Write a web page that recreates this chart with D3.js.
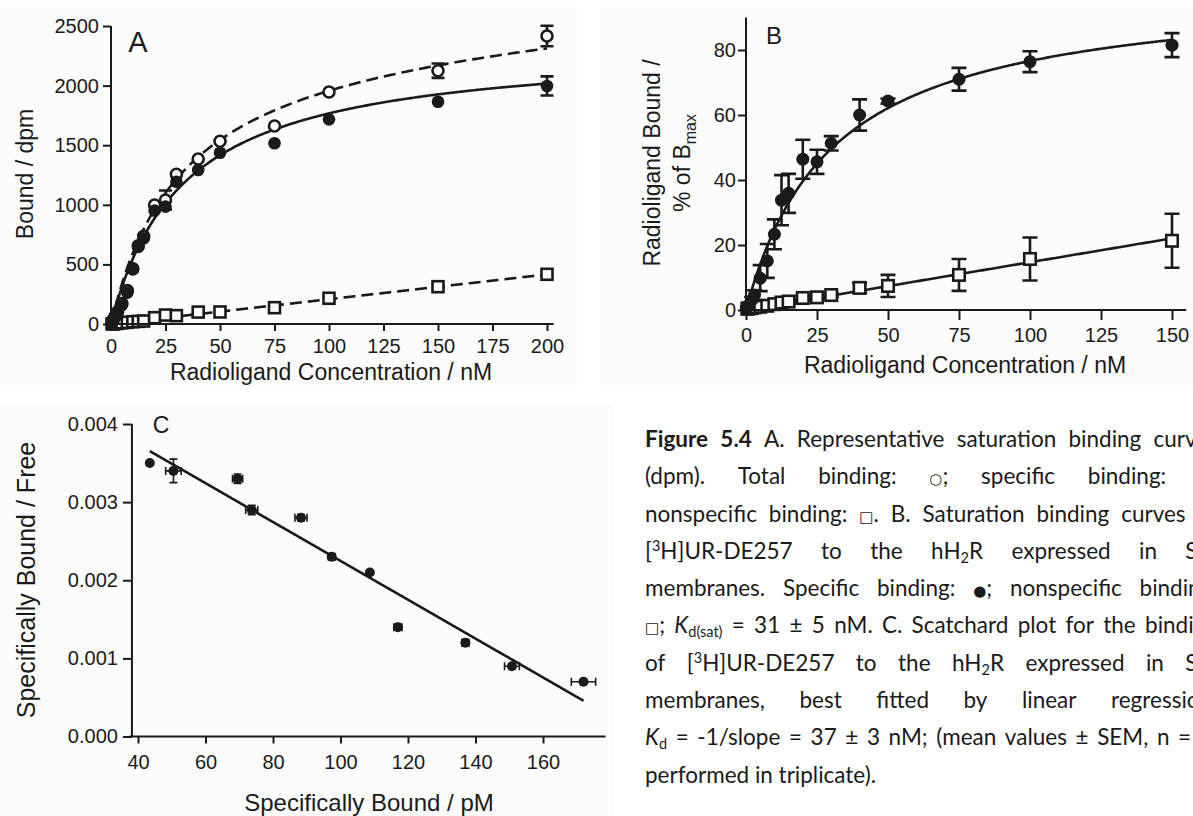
<!DOCTYPE html>
<html>
<head>
<meta charset="utf-8">
<script src="https://cdn.jsdelivr.net/npm/d3@7"></script>
<style>
  body { margin: 0; background: #fff; width: 1193px; height: 816px; overflow: hidden; position: relative; }
  svg { position: absolute; left: 0; top: 0; }
  .caption { position: absolute; left: 645px; top: 420px; font-family: Lato, "Open Sans", sans-serif; font-size: 22.5px; color: #1a1a1a; }
  .cl { display: flex; justify-content: space-between; column-gap: 3px; width: 573px; height: 37.3px; line-height: 37.3px; white-space: nowrap; }
  .cl.last { display: block; }
  .caption sub, .caption sup { font-size: 14.5px; line-height: 0; }
  .caption sub { vertical-align: -4px; }
  .caption sup { vertical-align: 8px; }
  .sym { font-family: "DejaVu Sans", sans-serif; font-size: 15px; }
</style>
</head>
<body>
<script>
// ---------- Panel A: saturation binding (dpm) ----------
const concA      = [0.5, 1, 2, 3, 5, 7.5, 10, 12.5, 15, 20, 25, 30, 40, 50, 75, 100, 150, 200];
const totalA     = [18, 35, 68, 100, 172, 280, 462, 655, 735, 998, 1040, 1256, 1384, 1533, 1661, 1946, 2125, 2416];
const totalErrA  = [0, 0, 0, 0, 0, 0, 0, 0, 0, 0, 80, 0, 0, 0, 0, 0, 60, 86];
const specificA  = [15, 30, 58, 92, 159, 263, 467, 648, 719, 951, 985, 1194, 1292, 1437, 1516, 1717, 1865, 1997];
const specErrA   = [0, 0, 0, 0, 0, 0, 0, 0, 0, 0, 0, 0, 0, 0, 0, 0, 0, 80];
const nonspecA   = [1, 2, 4, 6, 10, 14, 19, 22, 25, 53, 75, 70, 100, 101, 137, 216, 313, 417];
const ticksAx    = [0, 25, 50, 75, 100, 125, 150, 175, 200];
const ticksAy    = [0, 500, 1000, 1500, 2000, 2500];
// one-site fits
const fitSpecA   = { bmax: 2350, kd: 33 };
const fitTotalA  = { bmax: 2450, kd: 32, ns: 1.0 };
const fitNsSlopeA = 2.08;

// ---------- Panel B: saturation binding (% of Bmax) ----------
const concB      = [0.5, 1, 2, 3, 5, 7.5, 10, 12.5, 15, 20, 25, 30, 40, 50, 75, 100, 150];
const specB      = [0.8, 1.5, 3.0, 4.6, 9.8, 15.1, 23.3, 33.8, 35.9, 46.4, 45.6, 51.3, 60.0, 64.3, 71.0, 76.4, 81.5];
const specErrB   = [0.3, 0.5, 1.0, 1.5, 4.0, 5.2, 4.6, 7.7, 6.0, 6.0, 3.7, 2.2, 4.8, 0.8, 3.5, 3.2, 3.7];
const nonspecB   = [0.4, 0.5, 0.6, 0.8, 1.0, 1.3, 1.8, 2.3, 2.6, 3.7, 3.9, 4.6, 6.8, 7.4, 10.8, 15.7, 21.3];
const nsErrB     = [0, 0, 0, 0, 0.3, 0.3, 0.4, 0.5, 0.5, 0.6, 0.5, 0.6, 1.5, 3.4, 4.9, 6.6, 8.3];
const ticksBx    = [0, 25, 50, 75, 100, 125, 150];
const ticksBy    = [0, 20, 40, 60, 80];
const fitSpecB   = { bmax: 100, kd: 30.5 };
const fitNsSlopeB = 0.147;

// ---------- Panel C: Scatchard plot ----------
const boundC     = [43.5, 50.5, 69.5, 73.7, 88.3, 97.4, 108.7, 117, 137, 150.8, 172];
const ratioC     = [0.0035, 0.0034, 0.0033, 0.0029, 0.0028, 0.0023, 0.0021, 0.0014, 0.0012, 0.0009, 0.0007];
const boundErrC  = [0, 2.3, 1.5, 1.8, 1.8, 1.0, 0, 1.2, 1.0, 2.2, 3.6];
const ratioErrC  = [0, 0.00015, 0.00006, 0.00006, 0.00004, 0.00002, 0, 0.00002, 0.00004, 0.00003, 0];
const ticksCx    = [40, 60, 80, 100, 120, 140, 160];
const ticksCy    = [0, 0.001, 0.002, 0.003, 0.004];
const fitLinC    = { intercept: 0.004735, slope: -2.487e-5 };

// ---------- Caption ----------
const sym = s => `<span class="sym">${s}</span>`;
const captionLines = [
  ["<b>Figure</b>", "<b>5.4</b>", "A.", "Representative", "saturation", "binding", "curves"],
  ["(dpm).", "Total", "binding:", sym("○") + ";", "specific", "binding:", sym("●") + ";"],
  ["nonspecific", "binding:", sym("□") + ".", "B.", "Saturation", "binding", "curves", "of"],
  ["[<sup>3</sup>H]UR-DE257", "to", "the", "hH<sub>2</sub>R", "expressed", "in", "Sf9"],
  ["membranes.", "Specific", "binding:", sym("●") + ";", "nonspecific", "binding:"],
  [sym("□") + ";", "<i>K</i><sub>d(sat)</sub>", "=", "31", "±", "5", "nM.", "C.", "Scatchard", "plot", "for", "the", "binding"],
  ["of", "[<sup>3</sup>H]UR-DE257", "to", "the", "hH<sub>2</sub>R", "expressed", "in", "Sf9"],
  ["membranes,", "best", "fitted", "by", "linear", "regression;"],
  ["<i>K</i><sub>d</sub>", "=", "-1/slope", "=", "37", "±", "3", "nM;", "(mean", "values", "±", "SEM,", "n", "=", "3,"],
  ["performed", "in", "triplicate)."]
];

// ---------- drawing ----------
const INK = "#1a1a1a";
const FONT = "'Liberation Sans', Arial, sans-serif";

const svg = d3.select("body").append("svg").attr("width", 1193).attr("height", 816);

// faint panel backgrounds
svg.append("rect").attr("x", 0).attr("y", 7).attr("width", 577).attr("height", 383).attr("fill", "#fcfcfc");
svg.append("rect").attr("x", 600).attr("y", 7).attr("width", 593).attr("height", 383).attr("fill", "#fcfcfc");
svg.append("rect").attr("x", 0).attr("y", 403).attr("width", 613).attr("height", 413).attr("fill", "#fcfcfc");

function yAxis(g, y, ticks, xPos, yFrom, yTo, size, pad, fmt) {
  const ax = g.append("g").attr("transform", `translate(${xPos},0)`)
    .call(d3.axisLeft(y).tickValues(ticks).tickSize(size).tickPadding(pad).tickSizeOuter(0).tickFormat(fmt || d3.format("d")));
  ax.select(".domain").remove();
  ax.selectAll("line").attr("stroke", INK).attr("stroke-width", 2);
  ax.selectAll("text").attr("fill", INK).attr("font-size", 20).attr("font-family", FONT);
  g.append("line").attr("x1", xPos).attr("x2", xPos).attr("y1", y(yFrom)).attr("y2", y(yTo))
    .attr("stroke", INK).attr("stroke-width", 2);
}
function xAxis(g, x, ticks, yPos, xFrom, xTo, size, pad, fmt) {
  const ax = g.append("g").attr("transform", `translate(0,${yPos})`)
    .call(d3.axisBottom(x).tickValues(ticks).tickSize(size).tickPadding(pad).tickSizeOuter(0).tickFormat(fmt || d3.format("d")));
  ax.select(".domain").remove();
  ax.selectAll("line").attr("stroke", INK).attr("stroke-width", 2);
  ax.selectAll("text").attr("fill", INK).attr("font-size", 20).attr("font-family", FONT);
  g.append("line").attr("x1", x(xFrom)).attr("x2", x(xTo)).attr("y1", yPos).attr("y2", yPos)
    .attr("stroke", INK).attr("stroke-width", 2);
}
function label(g, text, x, y, size, rotate) {
  return g.append("text").attr("font-family", FONT).attr("font-size", size).attr("fill", INK)
    .attr("text-anchor", "middle")
    .attr("transform", `translate(${x},${y})` + (rotate ? " rotate(-90)" : ""))
    .text(text);
}
function curve(g, x, y, fn, x0, x1, dash) {
  const pts = d3.range(x0, x1 + 1e-9, (x1 - x0) / 300).map(c => [c, fn(c)]);
  g.append("path").attr("d", d3.line().x(d => x(d[0])).y(d => y(d[1]))(pts))
    .attr("fill", "none").attr("stroke", INK).attr("stroke-width", 2.6)
    .attr("stroke-dasharray", dash || null);
}
function vErr(g, x, y, xs, ys, es, cap, w) {
  xs.forEach((xv, i) => {
    const e = es[i]; if (!e) return;
    const cx = x(xv), t = y(ys[i] + e), b = y(ys[i] - e);
    g.append("path").attr("d", `M${cx},${t}V${b}M${cx - cap},${t}H${cx + cap}M${cx - cap},${b}H${cx + cap}`)
      .attr("stroke", INK).attr("stroke-width", w).attr("fill", "none");
  });
}
function hErr(g, x, y, xs, ys, es, cap, w) {
  xs.forEach((xv, i) => {
    const e = es[i]; if (!e) return;
    const cy = y(ys[i]), l = x(xv - e), r = x(xv + e);
    g.append("path").attr("d", `M${l},${cy}H${r}M${l},${cy - cap}V${cy + cap}M${r},${cy - cap}V${cy + cap}`)
      .attr("stroke", INK).attr("stroke-width", w).attr("fill", "none");
  });
}
function dots(g, x, y, xs, ys, r, open) {
  g.selectAll(null).data(xs).join("circle")
    .attr("cx", d => x(d)).attr("cy", (d, i) => y(ys[i])).attr("r", r)
    .attr("fill", open ? "#fcfcfc" : INK).attr("stroke", INK).attr("stroke-width", open ? 2.6 : 0);
}
function squares(g, x, y, xs, ys, s) {
  g.selectAll(null).data(xs).join("rect")
    .attr("x", d => x(d) - s / 2).attr("y", (d, i) => y(ys[i]) - s / 2)
    .attr("width", s).attr("height", s)
    .attr("fill", "#fcfcfc").attr("stroke", INK).attr("stroke-width", 2.6);
}

// Panel A
{
  const g = svg.append("g");
  const x = d3.scaleLinear([0, 200], [111, 547]);
  const y = d3.scaleLinear([0, 2500], [324, 26]);
  curve(g, x, y, c => fitNsSlopeA * c, 0, 200, "12,6");
  curve(g, x, y, c => fitTotalA.bmax * c / (fitTotalA.kd + c) + fitTotalA.ns * c, 0, 200, "12,6");
  curve(g, x, y, c => fitSpecA.bmax * c / (fitSpecA.kd + c), 0, 200);
  vErr(g, x, y, concA, totalA, totalErrA, 6.5, 2.6);
  vErr(g, x, y, concA, specificA, specErrA, 6.5, 2.6);
  squares(g, x, y, concA, nonspecA, 11);
  dots(g, x, y, concA, totalA, 5.5, true);
  dots(g, x, y, concA, specificA, 6.3, false);
  yAxis(g, y, ticksAy, x(0), 0, 2500, 8, 4);
  xAxis(g, x, ticksAx, y(0), -2, 203, 7, 8);
  label(g, "A", 138, 52, 29);
  label(g, "Radioligand Concentration / nM", 331, 380, 23);
  label(g, "Bound / dpm", 33, 174, 23, true);
}

// Panel B
{
  const g = svg.append("g");
  const x = d3.scaleLinear([0, 150], [746, 1172]);
  const y = d3.scaleLinear([0, 90], [310, 17.5]);
  curve(g, x, y, c => fitNsSlopeB * c, 0, 150);
  curve(g, x, y, c => fitSpecB.bmax * c / (fitSpecB.kd + c), 0, 150);
  vErr(g, x, y, concB, specB, specErrB, 7.5, 2.6);
  vErr(g, x, y, concB, nonspecB, nsErrB, 7.5, 2.6);
  squares(g, x, y, concB, nonspecB, 11.5);
  dots(g, x, y, concB, specB, 6.5, false);
  yAxis(g, y, ticksBy, x(0), 0, 90, 8, 2);
  xAxis(g, x, ticksBx, y(0), -1.5, 155, 10, 8);
  label(g, "B", 774, 44, 24);
  label(g, "Radioligand Concentration / nM", 965, 373, 23);
  label(g, "Radioligand Bound /", 660, 163, 23, true);
  const t2 = g.append("text").attr("font-family", FONT).attr("font-size", 23).attr("fill", INK)
    .attr("text-anchor", "middle").attr("transform", "translate(690,163) rotate(-90)");
  t2.append("tspan").text("% of B");
  t2.append("tspan").attr("font-size", 16).attr("dy", 6).text("max");
}

// Panel C
{
  const g = svg.append("g");
  const x = d3.scaleLinear([40, 160], [138, 543]);
  const y = d3.scaleLinear([0, 0.004], [736.5, 424]);
  const [bMin, bMax] = d3.extent(boundC);
  curve(g, x, y, c => fitLinC.intercept + fitLinC.slope * c, bMin, bMax);
  vErr(g, x, y, boundC, ratioC, ratioErrC, 4, 1.6);
  hErr(g, x, y, boundC, ratioC, boundErrC, 4, 1.6);
  dots(g, x, y, boundC, ratioC, 5, false);
  yAxis(g, y, ticksCy, x(38.2), 0, 0.004, 9, 5, d3.format(".3f"));
  xAxis(g, x, ticksCx, y(0), 37.5, 178.5, 7, 11);
  label(g, "C", 161, 433, 23);
  label(g, "Specifically Bound / pM", 369, 811, 24);
  label(g, "Specifically Bound / Free", 35, 580, 25, true);
}

// Caption block: justified lines, the column runs past the right edge of the page
const cap = d3.select("body").append("div").attr("class", "caption");
captionLines.forEach((words, i) => {
  const last = i === captionLines.length - 1;
  const line = cap.append("div").attr("class", last ? "cl last" : "cl");
  if (last) line.html(words.join(" "));
  else words.forEach(w => line.append("span").html(w));
});
</script>
</body>
</html>
